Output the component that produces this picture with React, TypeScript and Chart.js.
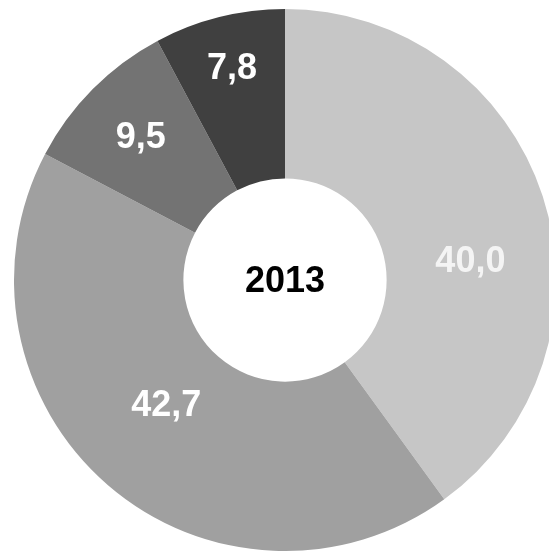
import React, { useEffect, useRef } from "react";
import { Chart, registerables } from "chart.js";

Chart.register(...registerables);

const categories = ["A", "B", "C", "D"];
const values = [40.0, 42.7, 9.5, 7.8];
const valueLabels = ["40,0", "42,7", "9,5", "7,8"];
const centerLabel = "2013";

const colors = ["#c6c6c6", "#a0a0a0", "#737373", "#404040"];
const labelColors = ["#f4f4f4", "#ffffff", "#ffffff", "#ffffff"];
const labelRadiusFrac = [0.5, 0.42, 0.6, 0.69];
const labelAngleOffsetDeg = [12.3, 2.6, 0, 0];

const labelPlugin = {
  id: "sliceLabels",
  afterDatasetsDraw(chart: any) {
    const ctx = chart.ctx;
    const meta = chart.getDatasetMeta(0);
    ctx.save();
    ctx.font = "bold 36px 'Liberation Sans', Arial, sans-serif";
    ctx.textAlign = "center";
    ctx.textBaseline = "middle";
    meta.data.forEach((arc: any, i: number) => {
      const p = arc.getProps(["x", "y", "startAngle", "endAngle", "innerRadius", "outerRadius"], true);
      const mid = (p.startAngle + p.endAngle) / 2 + (labelAngleOffsetDeg[i] * Math.PI) / 180;
      const r = p.innerRadius + labelRadiusFrac[i] * (p.outerRadius - p.innerRadius);
      ctx.fillStyle = labelColors[i];
      ctx.fillText(valueLabels[i], p.x + Math.cos(mid) * r, p.y + Math.sin(mid) * r + 1);
    });
    const a0 = meta.data[0];
    ctx.fillStyle = "#000000";
    ctx.fillText(centerLabel, a0.x, a0.y + 2);
    ctx.restore();
  },
};

export default function App() {
  const ref = useRef<HTMLCanvasElement | null>(null);
  useEffect(() => {
    if (!ref.current) return;
    const chart = new Chart(ref.current, {
      type: "doughnut",
      data: {
        labels: categories,
        datasets: [
          {
            data: values,
            backgroundColor: colors,
            borderWidth: 0,
            hoverOffset: 0,
          },
        ],
      },
      options: {
        responsive: false,
        animation: false,
        cutout: "37.5%",
        layout: { padding: 0 },
        plugins: {
          legend: { display: false },
          tooltip: { enabled: false },
        },
      },
      plugins: [labelPlugin],
    });
    return () => chart.destroy();
  }, []);
  return (
    <div
      style={{
        position: "fixed",
        left: 0,
        top: 0,
        width: 549,
        height: 551,
        overflow: "hidden",
        background: "#ffffff",
      }}
    >
      <canvas
        ref={ref}
        width={542}
        height={542}
        style={{ position: "absolute", left: 13.5, top: 9, width: 542, height: 542 }}
      />
    </div>
  );
}
